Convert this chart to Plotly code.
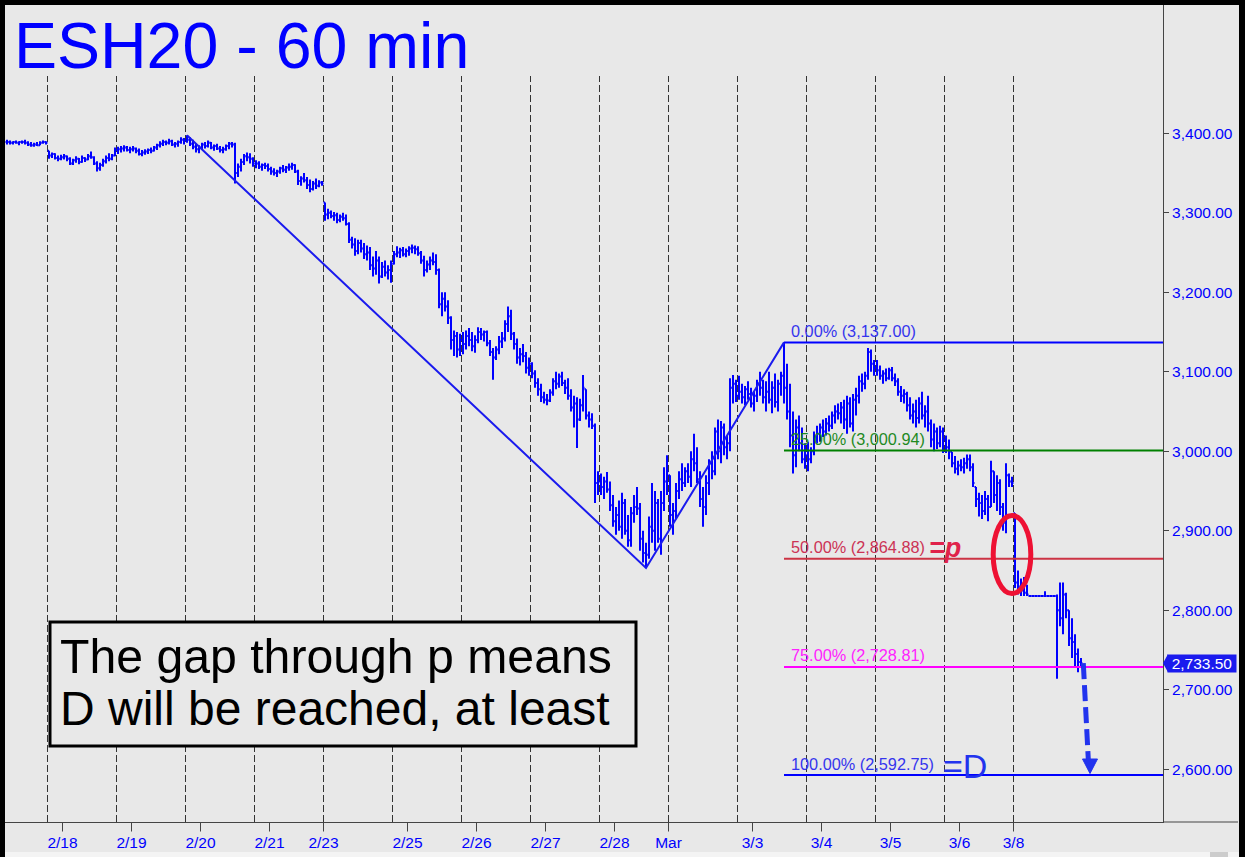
import plotly.graph_objects as go

TITLE = "ESH20 - 60 min"
NOTE_LINE_1 = "The gap through p means"
NOTE_LINE_2 = "D will be reached, at least"

# Hourly bars, one row per trading session
high = [
    3392, 3391, 3390, 3391, 3390, 3391, 3392, 3390, 3389, 3388, 3389, 3390, 3391, 3390,
    3378, 3376, 3375, 3372, 3373, 3374, 3372, 3370, 3368, 3371, 3369, 3372, 3370, 3374, 3377, 3371, 3365, 3363, 3368, 3372, 3375, 3374, 3382,
    3383, 3384, 3385, 3384, 3383, 3384, 3382, 3381, 3379, 3380, 3381, 3382, 3384, 3387, 3390, 3392, 3391, 3393, 3392, 3389, 3391, 3395, 3394,
    3397.5, 3395, 3392, 3387, 3385, 3388, 3389, 3391, 3389, 3386, 3387, 3384, 3383, 3386, 3389, 3389, 3388, 3362, 3368, 3374, 3376, 3375, 3370,
    3366, 3365, 3362, 3363, 3362, 3358, 3356, 3354, 3358, 3360, 3359, 3362, 3363, 3361, 3354, 3346, 3350, 3345, 3342, 3340, 3343, 3341, 3340,
    3313, 3305, 3303, 3301, 3300, 3298, 3300, 3298, 3288, 3270, 3268, 3266, 3266, 3262, 3259, 3257, 3245, 3252, 3245, 3238, 3240, 3234, 3240,
    3252, 3258, 3256, 3257, 3255, 3258, 3260, 3259, 3258, 3252, 3246, 3240, 3245, 3250, 3248, 3230, 3200, 3200, 3190, 3170, 3152, 3150, 3148,
    3150, 3152, 3155, 3150, 3146, 3156, 3155, 3152, 3152, 3140, 3130, 3132, 3145, 3150, 3165, 3182, 3178, 3150, 3142, 3130, 3135, 3125, 3118,
    3112, 3102, 3092, 3085, 3075, 3072, 3078, 3092, 3100, 3098, 3100, 3090, 3092, 3078, 3070, 3068, 3066, 3096, 3078, 3050, 3048, 3035, 2975,
    2972, 2968, 2974, 2962, 2945, 2930, 2938, 2948, 2940, 2920, 2930, 2945, 2955, 2935, 2900, 2885, 2918, 2960, 2950, 2940, 2950, 2980, 2995,
    2970, 2935, 2960, 2975, 2985, 2980, 2985, 3000, 3022, 3005, 2975, 2955, 2970, 2990, 3000, 3030, 3040, 3038, 3035, 3020, 3092, 3096, 3090,
    3095, 3085, 3082, 3088, 3080, 3075, 3090, 3100, 3090, 3088, 3100, 3088, 3098, 3090, 3100, 3137, 3110, 3085, 3050, 3040, 3045, 3030, 3010,
    3012, 3005, 3025, 3032, 3035, 3040, 3042, 3045, 3050, 3058, 3060, 3062, 3065, 3070, 3068, 3072, 3080, 3095, 3098, 3100, 3130, 3128, 3115,
    3115, 3108, 3102, 3104, 3105, 3106, 3098, 3092, 3082, 3078, 3075, 3068, 3060, 3065, 3068, 3075, 3058, 3070, 3040, 3035, 3030, 3032, 3030,
    3020, 3015, 2999, 2994, 2988, 2990, 2992, 2996, 2996, 2985, 2955, 2948, 2945, 2950, 2945, 2988, 2975, 2970, 2965, 2935, 2985, 2972, 2968,
    2922, 2850, 2840, 2842, 2832, 2818, 2818, 2818, 2818, 2818, 2824, 2818, 2818, 2818, 2820, 2835, 2835, 2822, 2800, 2790, 2770, 2752, 2740,
]
low = [
    3386, 3386, 3386, 3387, 3385, 3387, 3386, 3384, 3383, 3383, 3384, 3385, 3387, 3386,
    3368, 3369, 3367, 3365, 3366, 3367, 3365, 3360, 3360, 3363, 3361, 3363, 3364, 3366, 3368, 3360, 3352, 3353, 3358, 3362, 3365, 3366, 3371,
    3374, 3376, 3377, 3377, 3375, 3377, 3375, 3372, 3371, 3373, 3374, 3375, 3377, 3379, 3382, 3384, 3385, 3386, 3384, 3382, 3383, 3387, 3386,
    3388, 3384, 3380, 3376, 3375, 3379, 3381, 3382, 3380, 3378, 3379, 3376, 3375, 3378, 3380, 3382, 3337, 3345, 3352, 3360, 3365, 3362, 3358,
    3356, 3355, 3353, 3355, 3352, 3348, 3347, 3345, 3349, 3351, 3350, 3353, 3354, 3350, 3335, 3334, 3338, 3330, 3326, 3328, 3330, 3332, 3334,
    3290, 3292, 3293, 3290, 3287, 3288, 3290, 3284, 3262, 3255, 3246, 3248, 3250, 3242, 3240, 3228, 3220, 3222, 3211, 3218, 3220, 3216, 3212,
    3235, 3244, 3243, 3245, 3244, 3246, 3249, 3248, 3246, 3236, 3220, 3225, 3228, 3234, 3222, 3180, 3170, 3176, 3160, 3128, 3120, 3118, 3120,
    3122, 3128, 3132, 3126, 3124, 3136, 3140, 3138, 3132, 3120, 3090, 3115, 3122, 3130, 3138, 3150, 3140, 3128, 3110, 3108, 3112, 3098, 3095,
    3092, 3080, 3070, 3062, 3060, 3058, 3062, 3070, 3078, 3080, 3082, 3072, 3065, 3050, 3030, 3004, 3038, 3050, 3040, 3030, 3028, 2935, 2945,
    2945, 2940, 2948, 2925, 2905, 2895, 2900, 2890, 2895, 2880, 2880, 2910, 2920, 2875, 2860, 2853.25, 2865, 2885, 2875, 2885, 2870, 2925, 2945,
    2905, 2895, 2915, 2940, 2950, 2955, 2960, 2955, 2975, 2960, 2930, 2905, 2920, 2945, 2965, 2970, 2990, 2985, 2995, 2990, 3000, 3060, 3062,
    3065, 3060, 3058, 3065, 3055, 3050, 3062, 3070, 3060, 3050, 3060, 3048, 3055, 3050, 3070, 3060, 3040, 3005, 2972, 2980, 3000, 2985, 2978,
    2975, 2985, 2995, 3010, 3012, 3018, 3020, 3025, 3028, 3035, 3040, 3035, 3028, 3022, 3030, 3025, 3045, 3060, 3075, 3078, 3090, 3100, 3095,
    3095, 3090, 3085, 3088, 3090, 3088, 3082, 3070, 3062, 3060, 3050, 3040, 3035, 3030, 3035, 3040, 3030, 3025, 3005, 3000, 3003, 3005, 2998,
    2998, 2990, 2980, 2972, 2970, 2975, 2972, 2978, 2975, 2955, 2930, 2918, 2915, 2920, 2912, 2930, 2935, 2925, 2920, 2900, 2897, 2955, 2955,
    2828, 2820, 2818, 2818, 2818, 2818, 2818, 2818, 2818, 2818, 2818, 2818, 2818, 2818, 2714, 2780, 2770, 2790, 2755, 2740, 2730, 2722, 2728,
]
close = [
    3389, 3388, 3389, 3388, 3389, 3389, 3388, 3386, 3385, 3386, 3385, 3388, 3389, 3388,
    3372, 3374, 3369, 3368, 3370, 3371, 3368, 3362, 3366, 3368, 3364, 3369, 3367, 3371, 3370, 3362, 3356, 3360, 3365, 3369, 3368, 3372, 3379,
    3380, 3381, 3382, 3379, 3380, 3381, 3378, 3374, 3376, 3377, 3379, 3378, 3382, 3385, 3387, 3389, 3388, 3390, 3386, 3387, 3389, 3392, 3391,
    3392, 3387, 3383, 3380, 3382, 3386, 3384, 3388, 3382, 3384, 3381, 3379, 3380, 3384, 3387, 3386, 3350, 3358, 3364, 3371, 3370, 3368, 3362,
    3362, 3358, 3360, 3359, 3355, 3352, 3350, 3352, 3356, 3354, 3357, 3358, 3360, 3352, 3340, 3343, 3341, 3335, 3330, 3337, 3334, 3338, 3337,
    3298, 3300, 3296, 3297, 3291, 3295, 3293, 3286, 3266, 3260, 3252, 3262, 3255, 3248, 3250, 3234, 3230, 3240, 3220, 3232, 3225, 3228, 3236,
    3248, 3250, 3253, 3248, 3252, 3255, 3256, 3254, 3249, 3240, 3228, 3235, 3240, 3238, 3228, 3185, 3192, 3182, 3168, 3140, 3145, 3128, 3140,
    3135, 3145, 3140, 3132, 3140, 3150, 3147, 3150, 3136, 3125, 3118, 3128, 3138, 3142, 3160, 3170, 3148, 3135, 3118, 3122, 3120, 3105, 3110,
    3098, 3086, 3078, 3068, 3065, 3064, 3074, 3088, 3085, 3094, 3086, 3080, 3070, 3055, 3060, 3040, 3058, 3080, 3045, 3040, 3032, 2960, 2962,
    2955, 2962, 2952, 2932, 2912, 2920, 2905, 2935, 2900, 2888, 2922, 2930, 2928, 2890, 2872, 2870, 2905, 2900, 2935, 2890, 2935, 2962, 2975,
    2920, 2925, 2950, 2965, 2960, 2975, 2968, 2990, 2985, 2965, 2940, 2930, 2960, 2985, 2975, 3025, 3000, 3030, 3005, 3010, 3080, 3085, 3070,
    3075, 3068, 3078, 3072, 3060, 3070, 3085, 3080, 3068, 3075, 3065, 3080, 3062, 3085, 3095, 3080, 3050, 3020, 2995, 3030, 3010, 2990, 2995,
    2990, 3000, 3018, 3022, 3030, 3025, 3035, 3032, 3045, 3050, 3048, 3055, 3040, 3060, 3035, 3065, 3070, 3088, 3085, 3095, 3125, 3110, 3105,
    3102, 3095, 3098, 3092, 3102, 3092, 3088, 3075, 3070, 3072, 3058, 3045, 3050, 3042, 3060, 3045, 3050, 3035, 3015, 3025, 3010, 3025, 3015,
    3005, 3000, 2985, 2978, 2982, 2980, 2985, 2990, 2980, 2960, 2940, 2935, 2925, 2940, 2930, 2975, 2945, 2960, 2930, 2910, 2970, 2962, 2960,
    2835, 2830, 2825, 2822, 2820, 2818, 2818, 2818, 2818, 2818, 2818, 2818, 2818, 2818, 2800, 2790, 2820, 2800, 2765, 2760, 2745, 2735, 2733.5,
]

first_session_bars = 14
session_bars = 23
date_labels = ["2/18", "2/19", "2/20", "2/21", "2/23", "2/25", "2/26", "2/27",
               "2/28", "Mar", "3/3", "3/4", "3/5", "3/6", "3/8"]
label_session = [0, 1, 2, 3, 4, 5, 6, 7, 8, 9, 10, 11, 12, 13, 14]
label_sunday_open = [False, False, False, False, True, False, False, False,
                     False, True, False, False, False, False, True]

abc_bars = [60, 213, 259]          # A (high), B (low), C (high)
fib_ratios = [0.0, 0.25, 0.50, 0.75, 1.0]
fib_line_colors = ["#0000ff", "#008000", "#cc3344", "#ff00ff", "#0000ff"]
fib_text_colors = ["#3535ee", "#1f8a1f", "#cc3355", "#ff22ff", "#3535ee"]
y_ticks = [2600, 2700, 2800, 2900, 3000, 3100, 3200, 3300, 3400]

# ---------------------------------------------------------------
n = len(close)
xs = list(range(n))
opens = [close[0]] + [min(max(close[i - 1], low[i]), high[i]) for i in range(1, n)]

BLUE = "#0000ff"
FONT = "Liberation Sans, Arial, sans-serif"
W, H = 1245, 857
PL, PR, PT, PB = 5, 1163, 5, 822
PW, PH = PR - PL, PB - PT


def px_x(px):
    return (px - PL) / PW


def px_y(py):
    return (PB - py) / PH


def xk(px):  # pixel -> bar index coordinate (bar k centred on pixel 7 + 3k)
    return (px - 7.0) / 3.0


Y0 = 3000 - (PB - 451.3) / 0.795
Y1 = 3000 + (451.3 - PT) / 0.795


def yp(py):  # pixel -> price coordinate
    return 3000 - (py - 451.3) / 0.795


fig = go.Figure()

# Fibonacci projection lines + labels (drawn first so bars sit on top)
a_i, b_i, c_i = abc_bars
swing = high[a_i] - low[b_i]
x_end = xk(PR)
fib_annotations = []
for r, lc, tc in zip(fib_ratios, fib_line_colors, fib_text_colors):
    lvl = high[c_i] - r * swing
    fig.add_trace(go.Scatter(x=[c_i, x_end], y=[lvl, lvl], mode="lines",
                             line=dict(color=lc, width=2),
                             showlegend=False, hoverinfo="skip"))
    fib_annotations.append(dict(x=xk(788.5), y=lvl, xref="x", yref="y",
                                text=f"{r * 100:.2f}% ({lvl:,.2f})", showarrow=False,
                                xanchor="left", yanchor="middle", yshift=11.5,
                                font=dict(family=FONT, size=16.3, color=tc)))

fig.add_trace(go.Ohlc(
    x=xs, open=opens, high=high, low=low, close=close,
    increasing=dict(line=dict(color=BLUE, width=2)),
    decreasing=dict(line=dict(color=BLUE, width=2)),
    tickwidth=0.5, showlegend=False, hoverinfo="skip",
))

# ABC swing lines
abc_y = [high[a_i], low[b_i], high[c_i]]
fig.add_trace(go.Scatter(x=abc_bars, y=abc_y, mode="lines",
                         line=dict(color="#1a1aee", width=2),
                         showlegend=False, hoverinfo="skip"))

shapes = []
# dashed session separators
for j in range(len(label_session)):
    xv = first_session_bars - 0.5 + session_bars * j
    shapes.append(dict(type="line", xref="x", yref="paper", x0=xv, x1=xv,
                       y0=0, y1=px_y(76), layer="below",
                       line=dict(color="#333333", width=1, dash="7px,3px")))

# tick positions
tickvals = []
for s, sun in zip(label_session, label_sunday_open):
    start = first_session_bars - 0.5 + session_bars * s
    tickvals.append(start if sun else start + 5)
for tv in tickvals:
    shapes.append(dict(type="line", xref="x", yref="paper", x0=tv, x1=tv,
                       y0=0, y1=px_y(831.5),
                       line=dict(color="#444444", width=1)))

# red ellipse
shapes.append(dict(type="circle", xref="x", yref="y",
                   x0=xk(993.2), x1=xk(1030.8), y0=yp(593.5), y1=yp(515.5),
                   line=dict(color="#ee1133", width=5)))
# dashed arrow to D
shapes.append(dict(type="line", xref="x", yref="y",
                   x0=xk(1083.3), y0=close[-1], x1=xk(1088.3), y1=yp(759.5),
                   line=dict(color="#2233ee", width=5, dash="16px,6px")))
shapes.append(dict(type="path", xref="x", yref="y",
                   path=f"M {xk(1082.5)},{yp(759)} L {xk(1097.5)},{yp(759)} L {xk(1090)},{yp(773.5)} Z",
                   fillcolor="#2233ee", line=dict(color="#2233ee", width=1)))
# note box
shapes.append(dict(type="rect", xref="paper", yref="paper",
                   x0=px_x(50), x1=px_x(636), y0=px_y(746), y1=px_y(622),
                   fillcolor="#e8e8e8", line=dict(color="#000000", width=3),
                   layer="above"))
# extended bottom axis line under y labels
shapes.append(dict(type="line", xref="paper", yref="paper",
                   x0=1, x1=px_x(1238), y0=0, y1=0,
                   line=dict(color="#444444", width=1)))
# last-price marker notch
shapes.append(dict(type="path", xref="paper", yref="y",
                   path=f"M 1,{close[-1]} L {px_x(1168)},{close[-1] + 11.5} L {px_x(1168)},{close[-1] - 11.5} Z",
                   fillcolor="#1a1aee", line=dict(color="#1a1aee", width=0)))
# frame: black borders and bottom strip
shapes.append(dict(type="rect", xref="paper", yref="paper", x0=px_x(0), x1=px_x(5),
                   y0=px_y(857), y1=px_y(0), fillcolor="#000000", line=dict(width=0)))
shapes.append(dict(type="rect", xref="paper", yref="paper", x0=px_x(0), x1=px_x(1245),
                   y0=px_y(5), y1=px_y(0), fillcolor="#000000", line=dict(width=0)))
shapes.append(dict(type="rect", xref="paper", yref="paper", x0=px_x(1239), x1=px_x(1245),
                   y0=px_y(857), y1=px_y(0), fillcolor="#000000", line=dict(width=0)))
shapes.append(dict(type="rect", xref="paper", yref="paper", x0=px_x(5), x1=px_x(1239),
                   y0=px_y(857), y1=px_y(852), fillcolor="#f4f4f4", line=dict(width=0)))
shapes.append(dict(type="rect", xref="paper", yref="paper", x0=px_x(1210), x1=px_x(1228),
                   y0=px_y(857), y1=px_y(852), fillcolor="#cccccc", line=dict(width=0)))

annotations = fib_annotations + [
    dict(text=TITLE, xref="paper", yref="paper", x=px_x(12), y=px_y(46.5),
         xanchor="left", yanchor="middle", showarrow=False,
         font=dict(family=FONT, size=64.5, color=BLUE)),
    dict(text=NOTE_LINE_1, xref="paper", yref="paper", x=px_x(58), y=px_y(656),
         xanchor="left", yanchor="middle", showarrow=False,
         font=dict(family=FONT, size=48.2, color="#000000")),
    dict(text=NOTE_LINE_2, xref="paper", yref="paper", x=px_x(58), y=px_y(708),
         xanchor="left", yanchor="middle", showarrow=False,
         font=dict(family=FONT, size=48, color="#000000")),
    dict(text="<b><i>=p</i></b>", xref="x", yref="y", x=xk(944.5), y=yp(548),
         xanchor="center", yanchor="middle", showarrow=False,
         font=dict(family=FONT, size=27, color="#e0224a")),
    dict(text="=D", xref="x", yref="y", x=xk(964.5), y=yp(765.5),
         xanchor="center", yanchor="middle", showarrow=False,
         font=dict(family=FONT, size=34, color="#2233ee")),
    dict(text=f"{close[-1]:,.2f}", xref="paper", yref="y", x=px_x(1167), y=close[-1],
         xanchor="left", yanchor="middle", showarrow=False, width=68, height=17,
         bgcolor="#1a1aee", borderpad=0,
         font=dict(family=FONT, size=15.5, color="#ffffff")),
]
for a in annotations:
    fig.add_annotation(**a)

fig.update_layout(
    width=W, height=H,
    margin=dict(l=PL, r=W - PR, t=PT, b=H - PB, pad=0),
    paper_bgcolor="#e8e8e8", plot_bgcolor="#e8e8e8",
    shapes=shapes, showlegend=False,
    xaxis=dict(range=[xk(PL), xk(PR)], rangeslider=dict(visible=False),
               showgrid=False, zeroline=False, showline=True,
               linecolor="#444444", linewidth=1,
               tickmode="array", tickvals=tickvals, ticktext=date_labels,
               ticks="outside", ticklen=6, tickcolor="#444444",
               tickfont=dict(family=FONT, size=15.5, color=BLUE)),
    yaxis=dict(range=[Y0, Y1], side="right", showgrid=False, zeroline=False,
               showline=True, linecolor="#444444", linewidth=1,
               tickmode="array", tickvals=y_ticks, tickformat=",.2f",
               ticks="outside", ticklen=5, tickcolor="#444444",
               tickfont=dict(family=FONT, size=15.5, color=BLUE)),
)

fig.write_html(
    "out.html",
    config={"displayModeBar": False},
    post_script="document.body.style.margin='0';document.body.style.padding='0';"
                "document.body.style.overflow='hidden';",
)
